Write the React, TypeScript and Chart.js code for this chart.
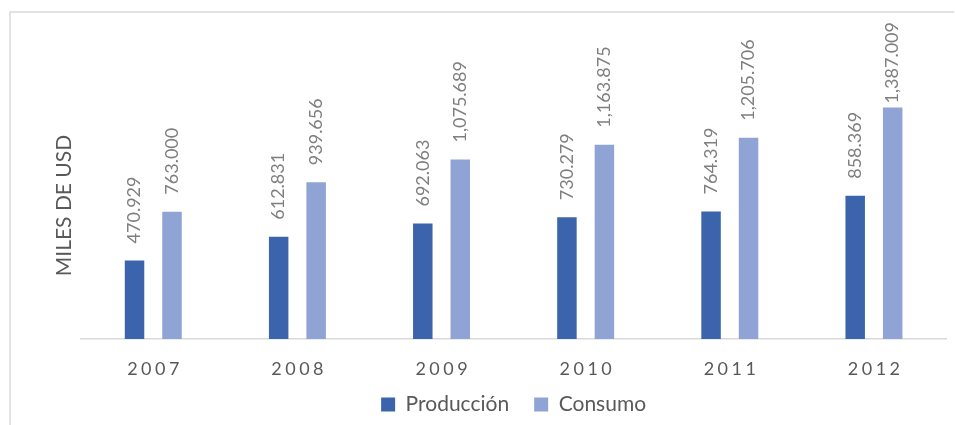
import React, { useEffect, useRef } from "react";
import { Chart, registerables } from "chart.js";

Chart.register(...registerables);

const years = ["2007", "2008", "2009", "2010", "2011", "2012"];
const produccion = [470.929, 612.831, 692.063, 730.279, 764.319, 858.369];
const consumo = [763.0, 939.656, 1075.689, 1163.875, 1205.706, 1387.009];
const seriesNames = ["Producción", "Consumo"];
const yTitle = "MILES DE USD";

const FONT = "Lato";
const fmt = (v: number) =>
  v.toLocaleString("en-US", { minimumFractionDigits: 3, maximumFractionDigits: 3 });

const customPlugin = {
  id: "custom",
  beforeDraw(chart: any) {
    const ctx = chart.ctx;
    ctx.save();
    ctx.strokeStyle = "#d9d9d9";
    ctx.lineWidth = 1.5;
    ctx.beginPath();
    ctx.moveTo(10, 440);
    ctx.lineTo(10, 12);
    ctx.lineTo(954, 12);
    ctx.stroke();
    ctx.restore();
  },
  afterDatasetsDraw(chart: any) {
    const ctx = chart.ctx;
    ctx.save();
    ctx.font = `18px ${FONT}`;
    ctx.fillStyle = "#7f7f7f";
    ctx.textAlign = "left";
    ctx.textBaseline = "middle";
    chart.data.datasets.forEach((ds: any, di: number) => {
      const meta = chart.getDatasetMeta(di);
      meta.data.forEach((bar: any, i: number) => {
        const txt = fmt(ds.data[i]);
        const len = ctx.measureText(txt).width;
        let y0 = bar.y - 17;
        const minTop = 22;
        if (y0 - len < minTop) y0 = minTop + len;
        ctx.save();
        ctx.translate(bar.x, y0);
        ctx.rotate(-Math.PI / 2);
        ctx.fillText(txt, 0, 0);
        ctx.restore();
      });
    });
    ctx.restore();
  },
  afterDraw(chart: any) {
    const ctx = chart.ctx;
    const xs = chart.scales.x;
    ctx.save();
    ctx.font = `18px ${FONT}`;
    ctx.fillStyle = "#595959";
    ctx.textAlign = "left";
    ctx.textBaseline = "alphabetic";
    (ctx as any).letterSpacing = "3.5px";
    years.forEach((lbl, i) => {
      const w = ctx.measureText(lbl).width - 3.5;
      const cx = xs.getPixelForValue(i);
      ctx.fillText(lbl, cx - w / 2, xs.top + 36);
    });
    (ctx as any).letterSpacing = "0px";
    ctx.restore();
  },
};

export default function App() {
  const ref = useRef<HTMLCanvasElement | null>(null);
  useEffect(() => {
    if (!ref.current) return;
    const chart = new Chart(ref.current, {
      type: "bar",
      data: {
        labels: years,
        datasets: [
          {
            label: seriesNames[0],
            data: produccion,
            backgroundColor: "#3b64ad",
            borderWidth: 0,
            categoryPercentage: 0.52,
            barPercentage: 0.52,
          },
          {
            label: seriesNames[1],
            data: consumo,
            backgroundColor: "#8fa3d4",
            borderWidth: 0,
            categoryPercentage: 0.52,
            barPercentage: 0.52,
          },
        ],
      },
      options: {
        responsive: false,
        devicePixelRatio: 1,
        animation: false,
        layout: { padding: { left: 48, right: 9, top: 72, bottom: 0 } },
        plugins: {
          tooltip: { enabled: false },
          legend: {
            position: "bottom",
            fullSize: false,
            labels: {
              boxWidth: 14,
              boxHeight: 14,
              padding: 25,
              color: "#595959",
              font: { family: FONT, size: 21 },
            },
          },
        },
        scales: {
          x: {
            grid: { display: false, drawTicks: false },
            border: { display: true, color: "#d9d9d9", width: 1.5 },
            ticks: { display: false },
            afterFit(scale: any) {
              scale.height = 30;
            },
          },
          y: {
            min: 0,
            max: 1600,
            grid: { display: false, drawTicks: false },
            border: { display: false },
            ticks: { display: false },
            title: {
              display: true,
              text: yTitle,
              color: "#595959",
              font: { family: FONT, size: 21 },
            },
          },
        },
      },
      plugins: [customPlugin],
    });
    return () => chart.destroy();
  }, []);
  return (
    <div style={{ position: "fixed", left: 0, top: 0, width: 955, height: 425 }}>
      <canvas ref={ref} width={955} height={425} />
    </div>
  );
}
